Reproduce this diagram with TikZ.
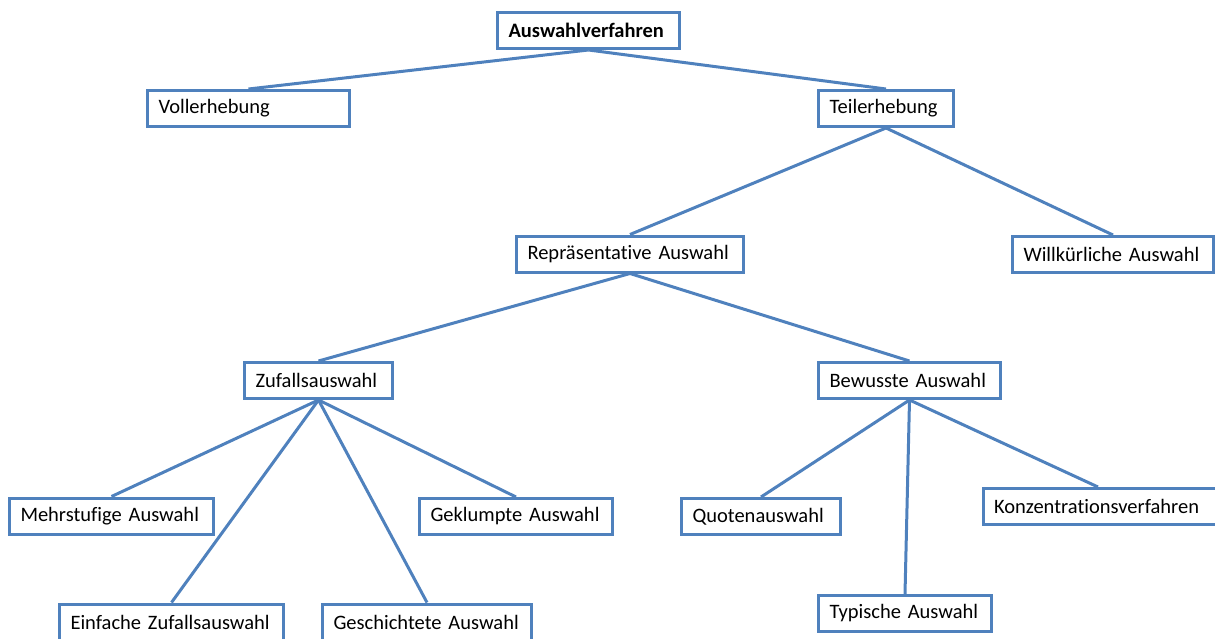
\documentclass[tikz,border=0pt]{standalone}
\usepackage{fontspec}
\setmainfont{Carlito}[Ligatures=NoCommon]
\usepackage{tikz}
\usetikzlibrary{positioning}

\definecolor{boxblue}{RGB}{79,129,189}

\begin{document}
\begin{tikzpicture}[x=1pt,y=-1pt]
\tikzstyle{box}=[draw=boxblue, line width=3pt, fill=white, rectangle, inner xsep=11pt, inner ysep=0pt,
  minimum height=36pt, align=left, font=\fontsize{20.5}{24}\selectfont]
\tikzstyle{link}=[draw=boxblue, line width=3pt]
\useasboundingbox (0,0) rectangle (1215,639);

% ebene 0 und 1
\node[box, text width=160pt, font=\fontsize{20.5}{24}\selectfont\bfseries] (verf) at (588.5,30.5) {Auswahlverfahren};
\node[box, text width=180pt] (voll) at (248.5,108.5) {Vollerhebung};
\node[box, text width=113pt] (teil) at (886,108.5) {Teilerhebung};

% ebene 2
\node[box, text width=205pt] (repr) at (630,254) {Repräsentative Auswahl};
\node[box, text width=179pt] (willk) at (1113,254.5) {Willkürliche Auswahl};

% ebene 3
\node[box, text width=126pt] (zuf) at (318.5,380.5) {Zufallsauswahl};
\node[box, text width=160pt] (bew) at (909.5,380.5) {Bewusste Auswahl};

% ebene 4
\node[box, text width=182pt] (mehr) at (111.5,516) {Mehrstufige Auswahl};
\node[box, text width=171pt] (gekl) at (516,516.5) {Geklumpte Auswahl};
\node[box, text width=137pt] (quot) at (761,516.5) {Quotenauswahl};
\node[box, text width=240pt] (konz) at (1114,506.5) {Konzentrationsverfahren};
\node[box, text width=202pt] (einf) at (171.5,622) {Einfache Zufallsauswahl};
\node[box, text width=187pt] (gesch) at (427,622) {Geschichtete Auswahl};
\node[box, text width=151pt] (typ) at (905,613.5) {Typische Auswahl};

% verbindungen
\draw[link] (verf.south) -- (voll.north);
\draw[link] (verf.south) -- (teil.north);
\draw[link] (teil.south) -- (repr.north);
\draw[link] (teil.south) -- (willk.north);
\draw[link] (repr.south) -- (zuf.north);
\draw[link] (repr.south) -- (bew.north);
\foreach \c in {mehr,einf,gesch,gekl}
  \draw[link] (zuf.south) -- (\c.north);
\draw[link] (bew.south) -- (quot.north);
\draw[link] (bew.south) -- (typ.north);
\draw[link] (bew.south) -- ([xshift=-16pt]konz.north);
\end{tikzpicture}
\end{document}
